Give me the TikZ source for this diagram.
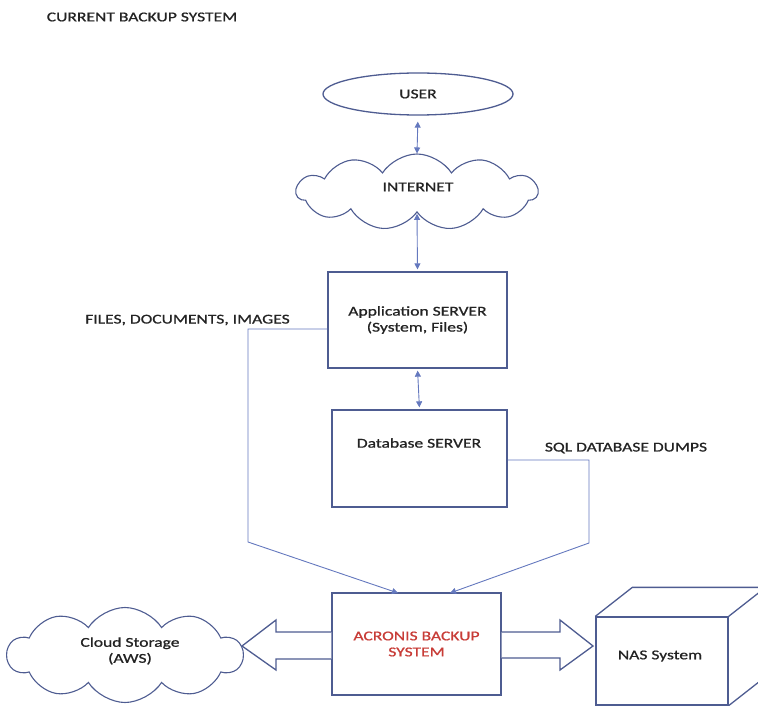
\documentclass[tikz,border=0pt]{standalone}
\usepackage{fontspec}
\setmainfont{Carlito}[FakeStretch=1.3,FakeBold=0.9]
\usetikzlibrary{shapes.geometric,shapes.symbols,arrows.meta}
\definecolor{boxline}{RGB}{78,92,145}
\definecolor{conn}{RGB}{100,120,190}
\definecolor{txt}{RGB}{35,35,35}
\definecolor{redtxt}{RGB}{200,60,55}
\begin{document}
\begin{tikzpicture}[x=1pt,y=-1pt,
  every node/.style={font=\fontsize{13.5}{16}\selectfont, text=txt},
  shapebox/.style={draw=boxline, line width=1.3pt, fill=white, inner sep=0pt, align=center},
  cloudbox/.style={cloud, cloud puffs=11, cloud puff arc=115, cloud ignores aspect, draw=boxline, line width=1.1pt, fill=white, inner sep=0pt, align=center},
  conline/.style={draw=conn, line width=0.9pt},
  tip/.style={-{Triangle[width=6pt,length=6pt]}},
  dtip/.style={{Triangle[width=6pt,length=6pt]}-{Triangle[width=6pt,length=6pt]}},
  blockarrow/.style={draw=boxline, line width=1.3pt, fill=white, line join=miter}
]
\useasboundingbox (0,0) rectangle (758,706);
\clip (0,0) rectangle (758,706);

\node (title) at (142,17) {CURRENT BACKUP SYSTEM};

\node[shapebox, ellipse, minimum width=190pt, minimum height=42pt] (user) at (418,94) {USER};
\node[cloudbox, minimum width=241pt, minimum height=76pt] (internet) at (417,192) {};
\node (internettext) at (418,187) {INTERNET};
\node[shapebox, rectangle, minimum width=179pt, minimum height=96pt] (app) at (417.5,320) {Application SERVER\\(System, Files)};
\node[shapebox, rectangle, minimum width=175pt, minimum height=97pt] (db) at (419.5,458.5) {};
\node (dbtext) at (419,443) {Database SERVER};
\node[shapebox, rectangle, minimum width=169pt, minimum height=102pt, text=redtxt] (acronis) at (416.5,644) {ACRONIS BACKUP\\SYSTEM};
\node[cloudbox, cloud puffs=10, minimum width=235pt, minimum height=95pt] (cloudst) at (125,655) {};
\node[align=center] (cloudtext) at (130,651) {Cloud Storage\\(AWS)};
\node[shapebox, rectangle, minimum width=132pt, minimum height=88pt] (nas) at (662,661) {};
\node (nastext) at (660,656) {NAS System};

\node (lblfiles) at (187.5,320) {FILES, DOCUMENTS, IMAGES};
\node (lblsql) at (626,448) {SQL DATABASE DUMPS};

% NAS cube depth
\draw[draw=boxline, line width=1.3pt, line join=miter]
  (nas.north west) -- ++(37,-29) -- ++(132,0)
  (nas.north east) -- ++(37,-29)
  (nas.south east) -- ++(37,-29);

% vertical double arrows
\draw[conline, dtip, shorten <=6pt, shorten >=0pt] (user.south) -- (internet.north);
\draw[conline, dtip, shorten <=1pt, shorten >=2pt] (internet.south) -- (app.north);
\draw[conline, dtip, shorten <=2pt, shorten >=2pt] (app.south) -- (db.north);

% backup flows
\coordinate (l1) at (248,329);
\coordinate (l2) at (248,542);
\coordinate (la) at (398,593);
\coordinate (r1) at (589,460);
\coordinate (r2) at (589,543);
\coordinate (ra) at (450,593);
\draw[conline, tip] (app.west |- l1) -- (l1) -- (l2) -- (la);
\draw[conline, tip] (db.east |- r1) -- (r1) -- (r2) -- (ra);

% block arrows
\draw[blockarrow] (acronis.east |- 0,632) -- (560,632) -- (560,620) -- (593,646) -- (560,670) -- (560,658) -- (acronis.east |- 0,658);
\draw[blockarrow] (acronis.west |- 0,632) -- (276,632) -- (276,620) -- (242,646) -- (276,670) -- (276,659) -- (acronis.west |- 0,659);
\end{tikzpicture}
\end{document}
